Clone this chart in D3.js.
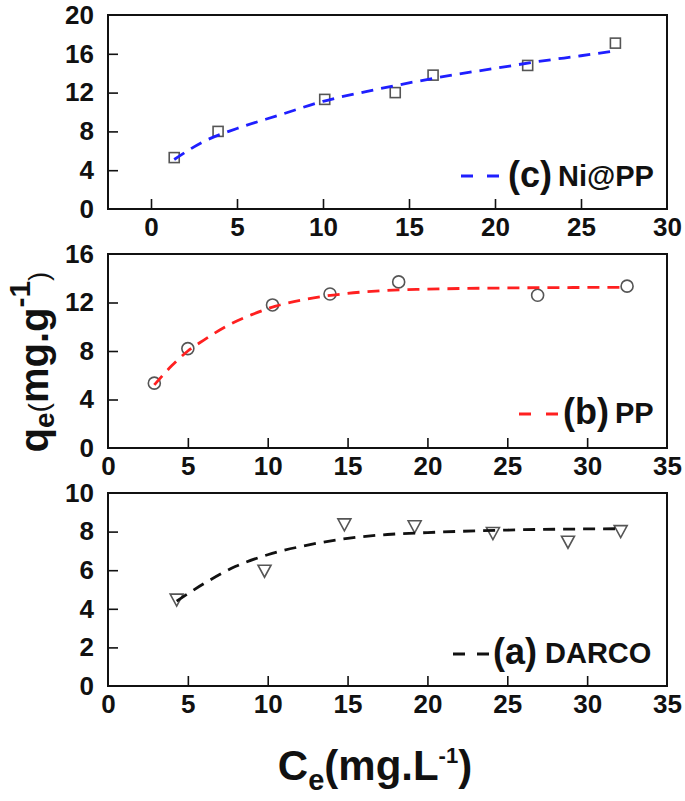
<!DOCTYPE html>
<html>
<head>
<meta charset="utf-8">
<script src="https://cdn.jsdelivr.net/npm/d3@7"></script>
<style>
  html, body { margin: 0; padding: 0; background: #fff; }
  svg { display: block; font-family: "Liberation Sans", Arial, sans-serif; }
</style>
</head>
<body>
<svg id="chart" width="685" height="801"></svg>
<script>
// ---------- data ----------
// (c) Ni@PP
const niCe = [1.35, 3.9, 10.1, 14.2, 16.4, 21.9, 27.0];
const niQe = [5.3, 8.0, 11.3, 12.0, 13.8, 14.8, 17.1];
const niFitCe = [1.35, 3, 5, 7.5, 10, 12.5, 15, 17.5, 20, 22.5, 25, 27];
const niFitQe = [5.1, 6.9, 8.3, 9.7, 11.1, 12.1, 13.0, 13.8, 14.5, 15.2, 15.8, 16.3];
// (b) PP
const ppCe = [2.9, 5.0, 10.3, 13.9, 18.2, 26.9, 32.5];
const ppQe = [5.35, 8.2, 11.8, 12.7, 13.7, 12.6, 13.35];
const ppFitCe = [2.9, 4, 5, 6, 7.5, 9, 10.5, 12.5, 15, 17.5, 20, 25, 32.5];
const ppFitQe = [5.2, 6.8, 8.0, 8.9, 10.1, 11.0, 11.7, 12.3, 12.75, 13.0, 13.1, 13.2, 13.25];
// (a) DARCO
const daCe = [4.3, 9.8, 14.8, 19.2, 24.1, 28.8, 32.1];
const daQe = [4.5, 6.0, 8.4, 8.3, 7.95, 7.5, 8.05];
const daFitCe = [4.3, 6, 8, 10, 12.5, 15, 17.5, 20, 25, 32];
const daFitQe = [4.4, 5.3, 6.2, 6.8, 7.3, 7.65, 7.85, 7.95, 8.08, 8.15];
// tick labels
const xTicksTop = [0, 5, 10, 15, 20, 25, 30];
const xTicksLow = [0, 5, 10, 15, 20, 25, 30, 35];
const yTicksTop = [0, 4, 8, 12, 16, 20];
const yTicksMid = [0, 4, 8, 12, 16];
const yTicksBot = [0, 2, 4, 6, 8, 10];

// ---------- layout ----------
const svg = d3.select("#chart");
const L = 108, R = 667;
const panels = [
  { top: 15, bottom: 209, xd: [-2.5, 30], yd: [0, 20], xt: xTicksTop, yt: yTicksTop,
    ce: niCe, qe: niQe, fce: niFitCe, fqe: niFitQe, marker: "square", color: "#1f1fff",
    leg: { x1: 461, x2: 499, y: 176, dash: "12,14", tx: 508, lab: "(c)", nx: 558, name: "Ni@PP", base: 187 } },
  { top: 254, bottom: 448, xd: [0, 35], yd: [0, 16], xt: xTicksLow, yt: yTicksMid,
    ce: ppCe, qe: ppQe, fce: ppFitCe, fqe: ppFitQe, marker: "circle", color: "#ff2020",
    leg: { x1: 519, x2: 559, y: 414, dash: "12,15", tx: 563, lab: "(b)", nx: 615, name: "PP", base: 424 } },
  { top: 493, bottom: 686, xd: [0, 35], yd: [0, 10], xt: xTicksLow, yt: yTicksBot,
    ce: daCe, qe: daQe, fce: daFitCe, fqe: daFitQe, marker: "triangle", color: "#111",
    leg: { x1: 453, x2: 490, y: 654, dash: "12,12", tx: 493, lab: "(a)", nx: 545, name: "DARCO", base: 664 } }
];

panels.forEach(p => {
  const x = d3.scaleLinear().domain(p.xd).range([L, R]);
  const y = d3.scaleLinear().domain(p.yd).range([p.bottom, p.top]);
  const g = svg.append("g");

  // x axis
  const xa = g.append("g").attr("transform", `translate(0,${p.bottom})`)
    .call(d3.axisBottom(x).tickValues(p.xt).tickSizeInner(-10).tickSizeOuter(0).tickPadding(9).tickFormat(d3.format("d")));
  xa.select(".domain").remove();
  xa.selectAll(".tick").filter(d => d <= p.xd[0] || d >= p.xd[1]).select("line").remove();
  xa.selectAll("line").attr("stroke", "#111").attr("stroke-width", 1.6);
  xa.selectAll("text").attr("font-size", 26).attr("font-weight", "bold").attr("fill", "#111")
    .attr("font-family", "'Liberation Sans', Arial, sans-serif");

  // y axis
  const ya = g.append("g").attr("transform", `translate(${L},0)`)
    .call(d3.axisLeft(y).tickValues(p.yt).tickSizeInner(-10).tickSizeOuter(0).tickPadding(14).tickFormat(d3.format("d")));
  ya.select(".domain").remove();
  ya.selectAll(".tick").filter(d => d <= p.yd[0] || d >= p.yd[1]).select("line").remove();
  ya.selectAll("line").attr("stroke", "#111").attr("stroke-width", 1.6);
  ya.selectAll("text").attr("font-size", 26).attr("font-weight", "bold").attr("fill", "#111")
    .attr("font-family", "'Liberation Sans', Arial, sans-serif");

  // frame
  g.append("rect").attr("x", L).attr("y", p.top).attr("width", R - L).attr("height", p.bottom - p.top)
    .attr("fill", "none").attr("stroke", "#111").attr("stroke-width", 2);

  // markers
  const pts = p.ce.map((c, i) => [c, p.qe[i]]);
  const mk = g.append("g").attr("fill", "none").attr("stroke", "#555").attr("stroke-width", 1.6);
  if (p.marker === "square") {
    mk.selectAll("rect").data(pts).join("rect")
      .attr("x", d => x(d[0]) - 5).attr("y", d => y(d[1]) - 5).attr("width", 10).attr("height", 10);
  } else if (p.marker === "circle") {
    mk.selectAll("circle").data(pts).join("circle")
      .attr("cx", d => x(d[0])).attr("cy", d => y(d[1])).attr("r", 6);
  } else {
    mk.selectAll("path").data(pts).join("path")
      .attr("d", d => { const cx = x(d[0]), cy = y(d[1]); return `M${cx - 6.5},${cy - 5}L${cx + 6.5},${cy - 5}L${cx},${cy + 7}Z`; });
  }

  // fit line
  const fit = p.fce.map((c, i) => [c, p.fqe[i]]);
  g.append("path").datum(fit)
    .attr("d", d3.line().x(d => x(d[0])).y(d => y(d[1])).curve(d3.curveMonotoneX))
    .attr("fill", "none").attr("stroke", p.color).attr("stroke-width", 2.8).attr("stroke-dasharray", "12,8");

  // legend
  const lg = p.leg;
  g.append("line").attr("x1", lg.x1).attr("x2", lg.x2).attr("y1", lg.y).attr("y2", lg.y)
    .attr("stroke", p.color).attr("stroke-width", 2.8).attr("stroke-dasharray", lg.dash);
  g.append("text").attr("x", lg.tx).attr("y", lg.base).attr("font-size", 36).attr("font-weight", "bold")
    .attr("fill", "#111").text(lg.lab);
  g.append("text").attr("x", lg.nx).attr("y", lg.base - 1).attr("font-size", 29).attr("font-weight", "bold")
    .attr("fill", "#111").text(lg.name);
});

// axis titles
const xt = svg.append("text").attr("x", 375).attr("y", 780).attr("text-anchor", "middle")
  .attr("font-weight", "bold").attr("fill", "#111").attr("font-size", 42);
xt.append("tspan").text("C");
xt.append("tspan").attr("font-size", 29).attr("dy", 10).text("e");
xt.append("tspan").attr("dy", -10).text("(mg.L");
xt.append("tspan").attr("font-size", 22).attr("dy", -17).text("-1");
xt.append("tspan").attr("dy", 17).text(")");

const yt = svg.append("text").attr("transform", "translate(48,362) rotate(-90)").attr("text-anchor", "middle")
  .attr("font-weight", "bold").attr("fill", "#111").attr("font-size", 40);
yt.append("tspan").text("q");
yt.append("tspan").attr("font-size", 28).attr("dy", 6).text("e");
yt.append("tspan").attr("font-size", 28).attr("font-weight", "normal").attr("dy", -6).text("(");
yt.append("tspan").text("mg.g");
yt.append("tspan").attr("font-size", 30).attr("dy", -18).text("-1");
yt.append("tspan").attr("font-size", 28).attr("font-weight", "normal").attr("dy", 18).text(")");
</script>
</body>
</html>
